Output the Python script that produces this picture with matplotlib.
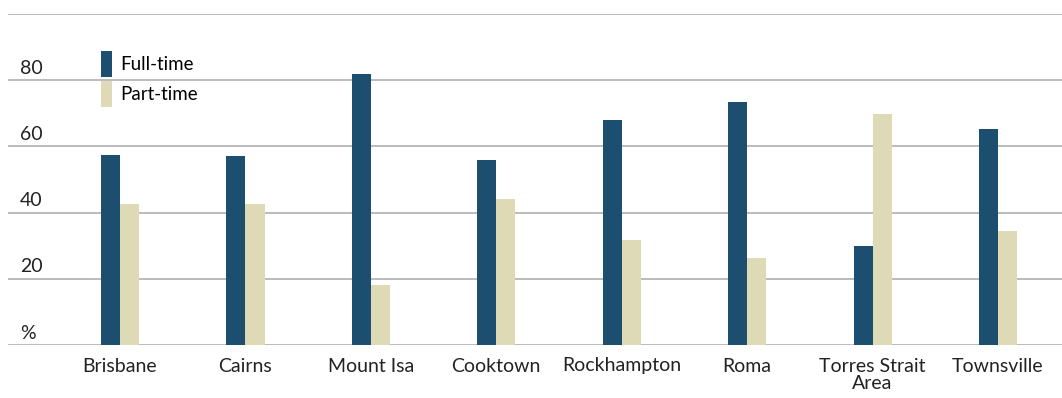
import matplotlib.pyplot as plt
import numpy as np

plt.rcParams['font.family'] = ['Lato', 'DejaVu Sans']

regions = ['Brisbane', 'Cairns', 'Mount Isa', 'Cooktown', 'Rockhampton',
           'Roma', 'Torres Strait\nArea', 'Townsville']
full_time = [57.4, 57.1, 81.9, 55.9, 68.0, 73.4, 29.9, 65.3]
part_time = [42.6, 42.6, 18.1, 44.1, 31.7, 26.3, 69.8, 34.4]
y_ticks = [0, 20, 40, 60, 80, 100]
y_labels = ['%', '20', '40', '60', '80', '']

dark_blue = '#1c4f6f'
beige = '#dddab5'

fig = plt.figure(figsize=(10.62, 3.98), dpi=100)
ax = fig.add_axes([8 / 1062, 53 / 398, 1054 / 1062, 331 / 398])

x = np.arange(len(regions))
w = 0.152
ax.bar(x - w / 2, full_time, w, color=dark_blue, label='Full-time', zorder=3)
ax.bar(x + w / 2, part_time, w, color=beige, label='Part-time', zorder=3)

ax.set_xlim(-0.893, 7.51)
ax.set_ylim(0, 100)

for v in y_ticks:
    ax.axhline(v, color='#bbbbbb', lw=1.4, zorder=1)
for v, lab in zip(y_ticks, y_labels):
    ax.text(12 / 1054, v + 1.0, lab, transform=ax.get_yaxis_transform(),
            fontsize=14, color='#222222', va='bottom', ha='left')

ax.set_yticks([])
ax.set_xticks(x)
ax.set_xticklabels(regions, fontsize=14, color='#222222', linespacing=1.05)
ax.tick_params(axis='x', length=0, pad=9)
for s in ax.spines.values():
    s.set_visible(False)

ax.legend(loc='upper left', bbox_to_anchor=(85 / 1054, 0.91), frameon=False,
          fontsize=13.5, handlelength=0.6, handleheight=1.75, handletextpad=0.45,
          labelspacing=0.2, borderaxespad=0)

fig.savefig('out.png', dpi=100)
